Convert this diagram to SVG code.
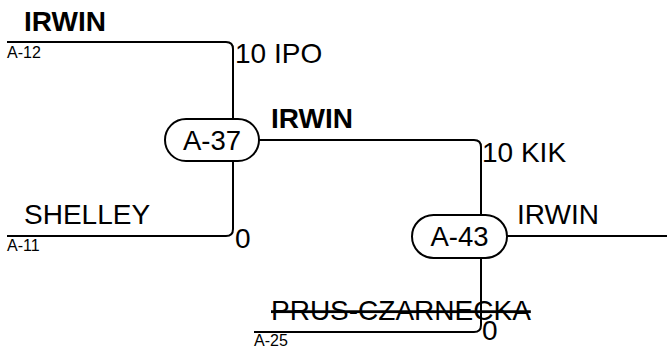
<svg xmlns="http://www.w3.org/2000/svg" width="667" height="348" viewBox="0 0 667 348">
<style>
text{font-family:"Liberation Sans",Arial,sans-serif;fill:#000}
.big{font-size:28px}
.b{font-weight:bold}
.sm{font-size:16px}
.nl{font-size:27.5px;text-anchor:middle}
.e{fill:none;stroke:#000;stroke-width:2}
.n{fill:#fff;stroke:#000;stroke-width:2}
</style>
<rect width="667" height="348" fill="#fff"/>
<g id="connectors">
<path class="e" d="M7 42 H226 Q233 42 233 49 V119"/>
<path class="e" d="M7 236 H226 Q233 236 233 229 V161"/>
<path class="e" d="M259 140 H474 Q481 140 481 147 V215"/>
<path class="e" d="M507 236 H667"/>
<path class="e" d="M254 332 H474 Q481 332 481 325 V258"/>
</g>
<g id="labels">
<text class="big b" x="24" y="31">IRWIN</text>
<text class="sm" x="7" y="58">A-12</text>
<text class="big" x="235" y="63">10 IPO</text>
<text class="big b" x="271" y="128">IRWIN</text>
<text class="big" x="482" y="162">10 KIK</text>
<text class="big" x="24" y="224">SHELLEY</text>
<text class="sm" x="7" y="251">A-11</text>
<text class="big" x="235" y="248">0</text>
<text class="big" x="517" y="224">IRWIN</text>
<text class="big" x="271" y="320" text-decoration="line-through">PRUS-CZARNECKA</text>
<text class="sm" x="254" y="346">A-25</text>
<text class="big" x="482" y="340">0</text>
</g>
<g id="A-37">
<rect class="n" x="165" y="119" width="94" height="42" rx="21"/>
<text class="nl" x="212" y="150">A-37</text>
</g>
<g id="A-43">
<rect class="n" x="412" y="215" width="95" height="43" rx="21.5"/>
<text class="nl" x="459.5" y="246">A-43</text>
</g>
</svg>
